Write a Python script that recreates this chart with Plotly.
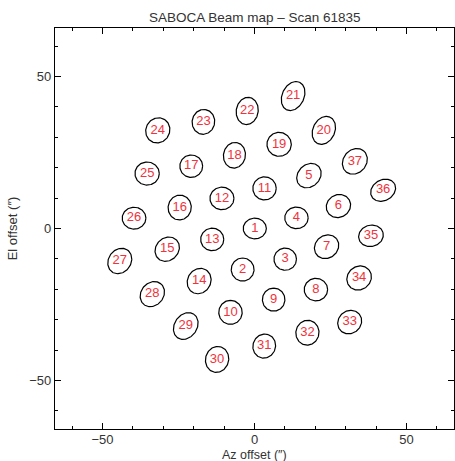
import numpy as np
import plotly.graph_objects as go

beam_ids = list(range(1, 38))
az = [0.1, -3.9, 10.1, 13.8, 17.9, 27.6, 23.7, 20.2, 6.3, -7.9,
      3.3, -10.7, -13.9, -18.2, -28.7, -24.6, -20.8, -6.6, 8.1, 22.8,
      12.7, -2.4, -16.8, -31.8, -35.3, -39.6, -44.3, -33.6, -22.6, -12.3,
      3.2, 17.4, 31.3, 34.4, 38.3, 42.3, 33.0]
el = [0.0, -13.5, -10.1, 3.5, 17.4, 7.4, -6.0, -20.1, -23.4, -27.6,
      13.2, 9.9, -3.6, -17.3, -6.8, 6.9, 20.5, 24.1, 27.7, 32.3,
      43.6, 38.7, 35.1, 32.3, 18.1, 3.4, -10.7, -21.6, -32.1, -43.1,
      -38.7, -34.3, -30.8, -16.3, -2.4, 12.6, 22.1]
semi_major = [3.8, 3.8, 3.7, 3.85, 4.4, 4.1, 4.2, 3.85, 3.8, 3.95,
              3.85, 3.95, 3.8, 4.3, 4.3, 4.1, 3.75, 4.25, 4.0, 4.8,
              5.0, 4.5, 4.1, 4.2, 4.0, 3.9, 4.4, 4.4, 4.7, 4.3,
              4.0, 4.1, 4.1, 4.2, 4.1, 4.3, 4.5]
semi_minor = [3.4, 3.75, 3.65, 3.55, 3.6, 3.7, 3.7, 3.7, 3.7, 3.85,
              3.8, 3.7, 3.7, 3.8, 3.7, 3.8, 3.7, 3.6, 3.95, 3.6,
              3.6, 3.6, 3.7, 3.9, 3.8, 3.6, 3.7, 3.7, 3.7, 3.8,
              3.7, 3.8, 3.7, 3.8, 3.5, 3.4, 3.8]
angle_deg = [0, 90, 0, 0, 45, 30, 40, 0, 90, 90,
             0, 0, 0, 60, 45, 80, 0, 80, 0, 65,
             65, 80, 80, 60, 0, 0, 55, 50, 55, 75,
             70, 80, 40, 40, 15, 30, 50]

title_text = "SABOCA Beam map \u2013 Scan 61835"
x_title = "Az offset (\u2033)"
y_title = "El offset (\u2033)"

FONT = "Liberation Sans, Arial"

fig = go.Figure()
t = np.linspace(0, 2 * np.pi, 120)
for cx, cy, a, b, ang in zip(az, el, semi_major, semi_minor, angle_deg):
    th = np.deg2rad(ang)
    ex = cx + a * np.cos(t) * np.cos(th) - b * np.sin(t) * np.sin(th)
    ey = cy + a * np.cos(t) * np.sin(th) + b * np.sin(t) * np.cos(th)
    fig.add_trace(go.Scatter(x=ex, y=ey, mode="lines",
                             line=dict(color="black", width=1.2),
                             hoverinfo="skip", showlegend=False))

fig.add_trace(go.Scatter(x=az, y=el, mode="text",
                         text=[str(i) for i in beam_ids],
                         textfont=dict(family=FONT, size=13, color="#f0323c"),
                         showlegend=False))

axis_common = dict(
    showgrid=False, zeroline=False, showline=True, linecolor="black", linewidth=1.2,
    mirror="ticks", ticks="inside", ticklen=6, tickcolor="black", tickwidth=1,
    dtick=50, tick0=0,
    minor=dict(dtick=10, ticks="inside", ticklen=3, tickcolor="black"),
    tickfont=dict(family=FONT, size=13, color="#333333"),
)

fig.update_layout(
    width=455, height=461,
    margin=dict(l=55, r=1, t=28, b=32),
    paper_bgcolor="white", plot_bgcolor="white",
    title=dict(text=title_text, x=0.56, xanchor="center", y=0.963, yanchor="middle",
               font=dict(family=FONT, size=13.5, color="#333333")),
    xaxis=dict(range=[-65.6, 65.6], automargin=False, ticklabelstandoff=-2, **axis_common),
    yaxis=dict(range=[-66, 66], title=dict(text=y_title, standoff=8,
               font=dict(family=FONT, size=13, color="#333333")),
               **axis_common),
    annotations=[dict(text=x_title, xref="paper", yref="paper", x=0.5, y=-0.066,
                      xanchor="center", yanchor="middle", showarrow=False,
                      font=dict(family=FONT, size=12.5, color="#333333"))],
)

fig.write_html("out.html")
